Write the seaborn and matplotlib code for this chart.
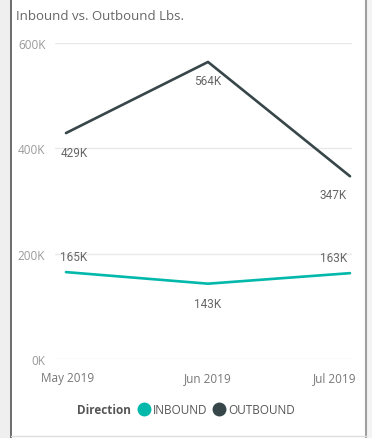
import matplotlib
matplotlib.use("Agg")
import matplotlib.pyplot as plt
from matplotlib.lines import Line2D
from matplotlib.patches import Rectangle
import matplotlib.transforms as mtransforms
import seaborn as sns
import pandas as pd

months = ["May 2019", "Jun 2019", "Jul 2019"]
inbound = [165000, 143000, 163000]
outbound = [429000, 564000, 347000]
directions = ["INBOUND", "OUTBOUND"]
colors = {"INBOUND": "#01B8AA", "OUTBOUND": "#374649"}
y_ticks = [0, 200000, 400000, 600000]
y_tick_labels = ["0K", "200K", "400K", "600K"]

df = pd.DataFrame({
    "Month": list(range(len(months))) * 2,
    "Lbs": inbound + outbound,
    "Direction": ["INBOUND"] * 3 + ["OUTBOUND"] * 3,
})

sns.set_theme(style="white")
plt.rcParams["font.family"] = ["Open Sans", "DejaVu Sans"]

W, H = 372, 439
fig = plt.figure(figsize=(W / 100, H / 100), dpi=100)

def fx(px):
    return px / W

def fy(py):
    return 1 - py / H

# panel frame
fig.patches.append(Rectangle((0, 0), fx(11), 1, transform=fig.transFigure,
                             facecolor="#efefef", edgecolor="none", zorder=0))
fig.patches.append(Rectangle((fx(366), 0), 1 - fx(366), 1, transform=fig.transFigure,
                             facecolor="#f3f3f3", edgecolor="none", zorder=0))
fig.add_artist(Line2D([fx(11), fx(11)], [0, 1], transform=fig.transFigure,
                      color="#555555", lw=1.2))
fig.add_artist(Line2D([fx(365.5), fx(365.5)], [0, 1], transform=fig.transFigure,
                      color="#a0a0a0", lw=1.5))
fig.add_artist(Line2D([fx(11), fx(366)], [fy(437), fy(437)], transform=fig.transFigure,
                      color="#dddddd", lw=1))

left_px, right_px = 55, 352
top_px, bottom_px = 44, 360
ax = fig.add_axes([fx(left_px), fy(bottom_px), fx(right_px - left_px),
                   (bottom_px - top_px) / H])
ax.set_facecolor("none")

sns.lineplot(data=df, x="Month", y="Lbs", hue="Direction", palette=colors,
             linewidth=1.9, ax=ax, legend=False, zorder=3)

ppu = 284 / 2  # pixels per month step
ax.set_xlim(-11 / ppu, 2 + 2 / ppu)
ax.set_ylim(0, 600000)

ax.set_yticks(y_ticks)
ax.set_yticklabels(y_tick_labels)
ax.set_xticks(range(len(months)))
ax.set_xticklabels(months)
for sp in ax.spines.values():
    sp.set_visible(False)
ax.grid(axis="y", color="#e9e9e9", lw=1)
ax.grid(axis="x", visible=False)
ax.tick_params(axis="y", length=0, pad=7, labelsize=8.5, labelcolor="#9a9a9a")
ax.tick_params(axis="x", length=0, pad=9, labelsize=8.5, labelcolor="#777777")
ax.set_xlabel("")
ax.set_ylabel("")

xt = ax.get_xticklabels()
xt[0].set_transform(xt[0].get_transform() + mtransforms.ScaledTranslation(2 / 100, 0, fig.dpi_scale_trans))
xt[-1].set_transform(xt[-1].get_transform() + mtransforms.ScaledTranslation(-15 / 100, 0, fig.dpi_scale_trans))

# data labels
lab_kw = dict(fontsize=8.5, color="#666666", family=["Roboto", "DejaVu Sans"], zorder=4)
def klabel(v):
    return f"{round(v / 1000)}K"

off = mtransforms.offset_copy
def put(i, v, dx, dy, ha):
    tr = off(ax.transData, fig=fig, x=dx, y=dy, units="points")
    ax.text(i, v, klabel(v), transform=tr, ha=ha, va="center", **lab_kw)

put(0, outbound[0], -4, -14, "left")
put(1, outbound[1], 0, -13, "center")
put(2, outbound[2], -2, -13, "right")
put(0, inbound[0], -4, 11, "left")
put(1, inbound[1], 0, -14, "center")
put(2, inbound[2], -2, 11, "right")

# title
fig.text(fx(16), fy(16), "Inbound vs. Outbound Lbs.", ha="left", va="center",
         fontsize=9.5, color="#666666")

# legend
fig.text(fx(131), fy(411), "Direction", ha="right", va="center",
         fontsize=8.5, fontweight="bold", color="#555555")
handles = [Line2D([], [], marker="o", linestyle="none", markersize=9,
                  markerfacecolor=colors[d], markeredgecolor=colors[d]) for d in directions]
fig.legend(handles, directions, loc="center left", bbox_to_anchor=(fx(138), fy(411)),
           ncol=2, frameon=False, handletextpad=0.25, columnspacing=0.5,
           handlelength=1.0, borderpad=0, borderaxespad=0,
           prop={"size": 8.5}, labelcolor="#555555")

fig.savefig("out.png", dpi=100)
